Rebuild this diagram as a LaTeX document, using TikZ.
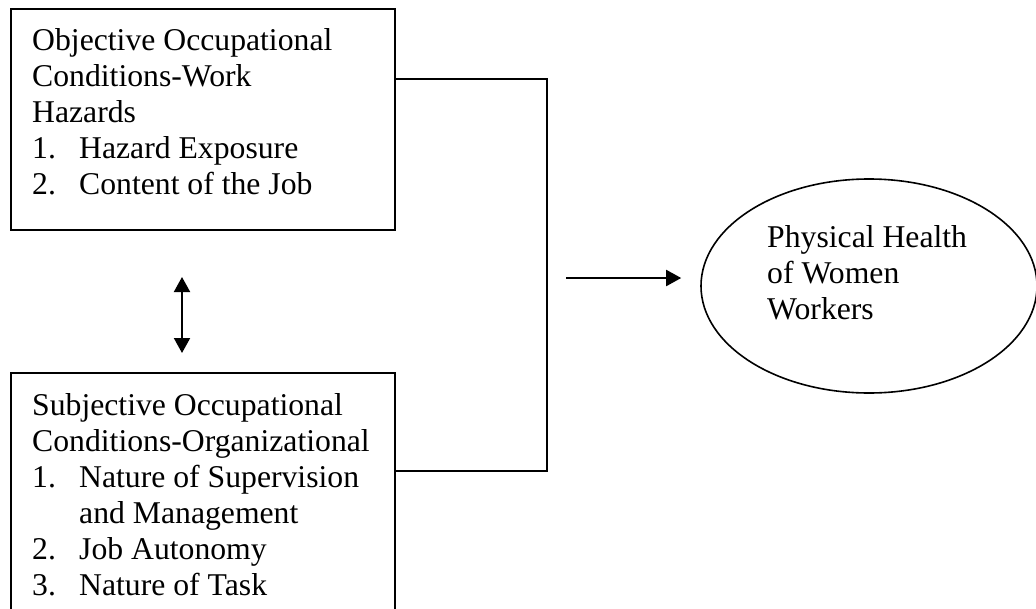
\documentclass[tikz,border=0pt]{standalone}
\usepackage{fontspec}
\setmainfont{Liberation Serif}
\usetikzlibrary{shapes.geometric,arrows.meta}
\begin{document}
\begin{tikzpicture}[x=1pt,y=-1pt,
  box/.style={draw,line width=2pt,rectangle,inner sep=0pt,anchor=north west},
  txt/.style={anchor=base west,inner sep=0pt,align=left,font=\fontsize{31.7}{36}\selectfont},
  conn/.style={line width=2pt},
  arr/.style={line width=2pt,-{Triangle[length=15pt,width=16pt]}},
  darr/.style={line width=2pt,{Triangle[length=15pt,width=16pt]}-{Triangle[length=15pt,width=16pt]}}]
\useasboundingbox (0,0) rectangle (1036,608);
\newcommand{\itm}[1]{\makebox[47pt][l]{#1}}
% top box
\node[box,minimum width=384pt,minimum height=221pt] (A) at (10,8) {};
\node[txt] (At) at (32,194) {Objective Occupational\\Conditions-Work\\Hazards\\\itm{1.}Hazard Exposure\\\itm{2.}Content of the Job};
% bottom box
\node[box,minimum width=384pt,minimum height=250pt] (B) at (10,372) {};
\node[txt] (Bt) at (32,595) {Subjective Occupational\\Conditions-Organizational\\\itm{1.}Nature of Supervision\\\itm{}and Management\\\itm{2.}Job Autonomy\\\itm{3.}Nature of Task};
% ellipse
\node[draw,ellipse,line width=1.6pt,minimum width=336pt,minimum height=214pt,inner sep=0pt] (E) at (869,286) {};
\node[txt] (Et) at (767,319) {Physical Health\\of Women\\Workers};
% connectors
\coordinate (j1) at (547,79);
\coordinate (j2) at (547,471);
\draw[conn] (A.east |- j1) -- (j1) -- (j2) -- (B.east |- j2);
\coordinate (a0) at (566,278);
\draw[arr] (a0) -- (a0 -| E.west) [shorten >=19pt];
\coordinate (d1) at (182,277);
\coordinate (d2) at (182,353);
\draw[darr] (d1) -- (d2);
\end{tikzpicture}
\end{document}
